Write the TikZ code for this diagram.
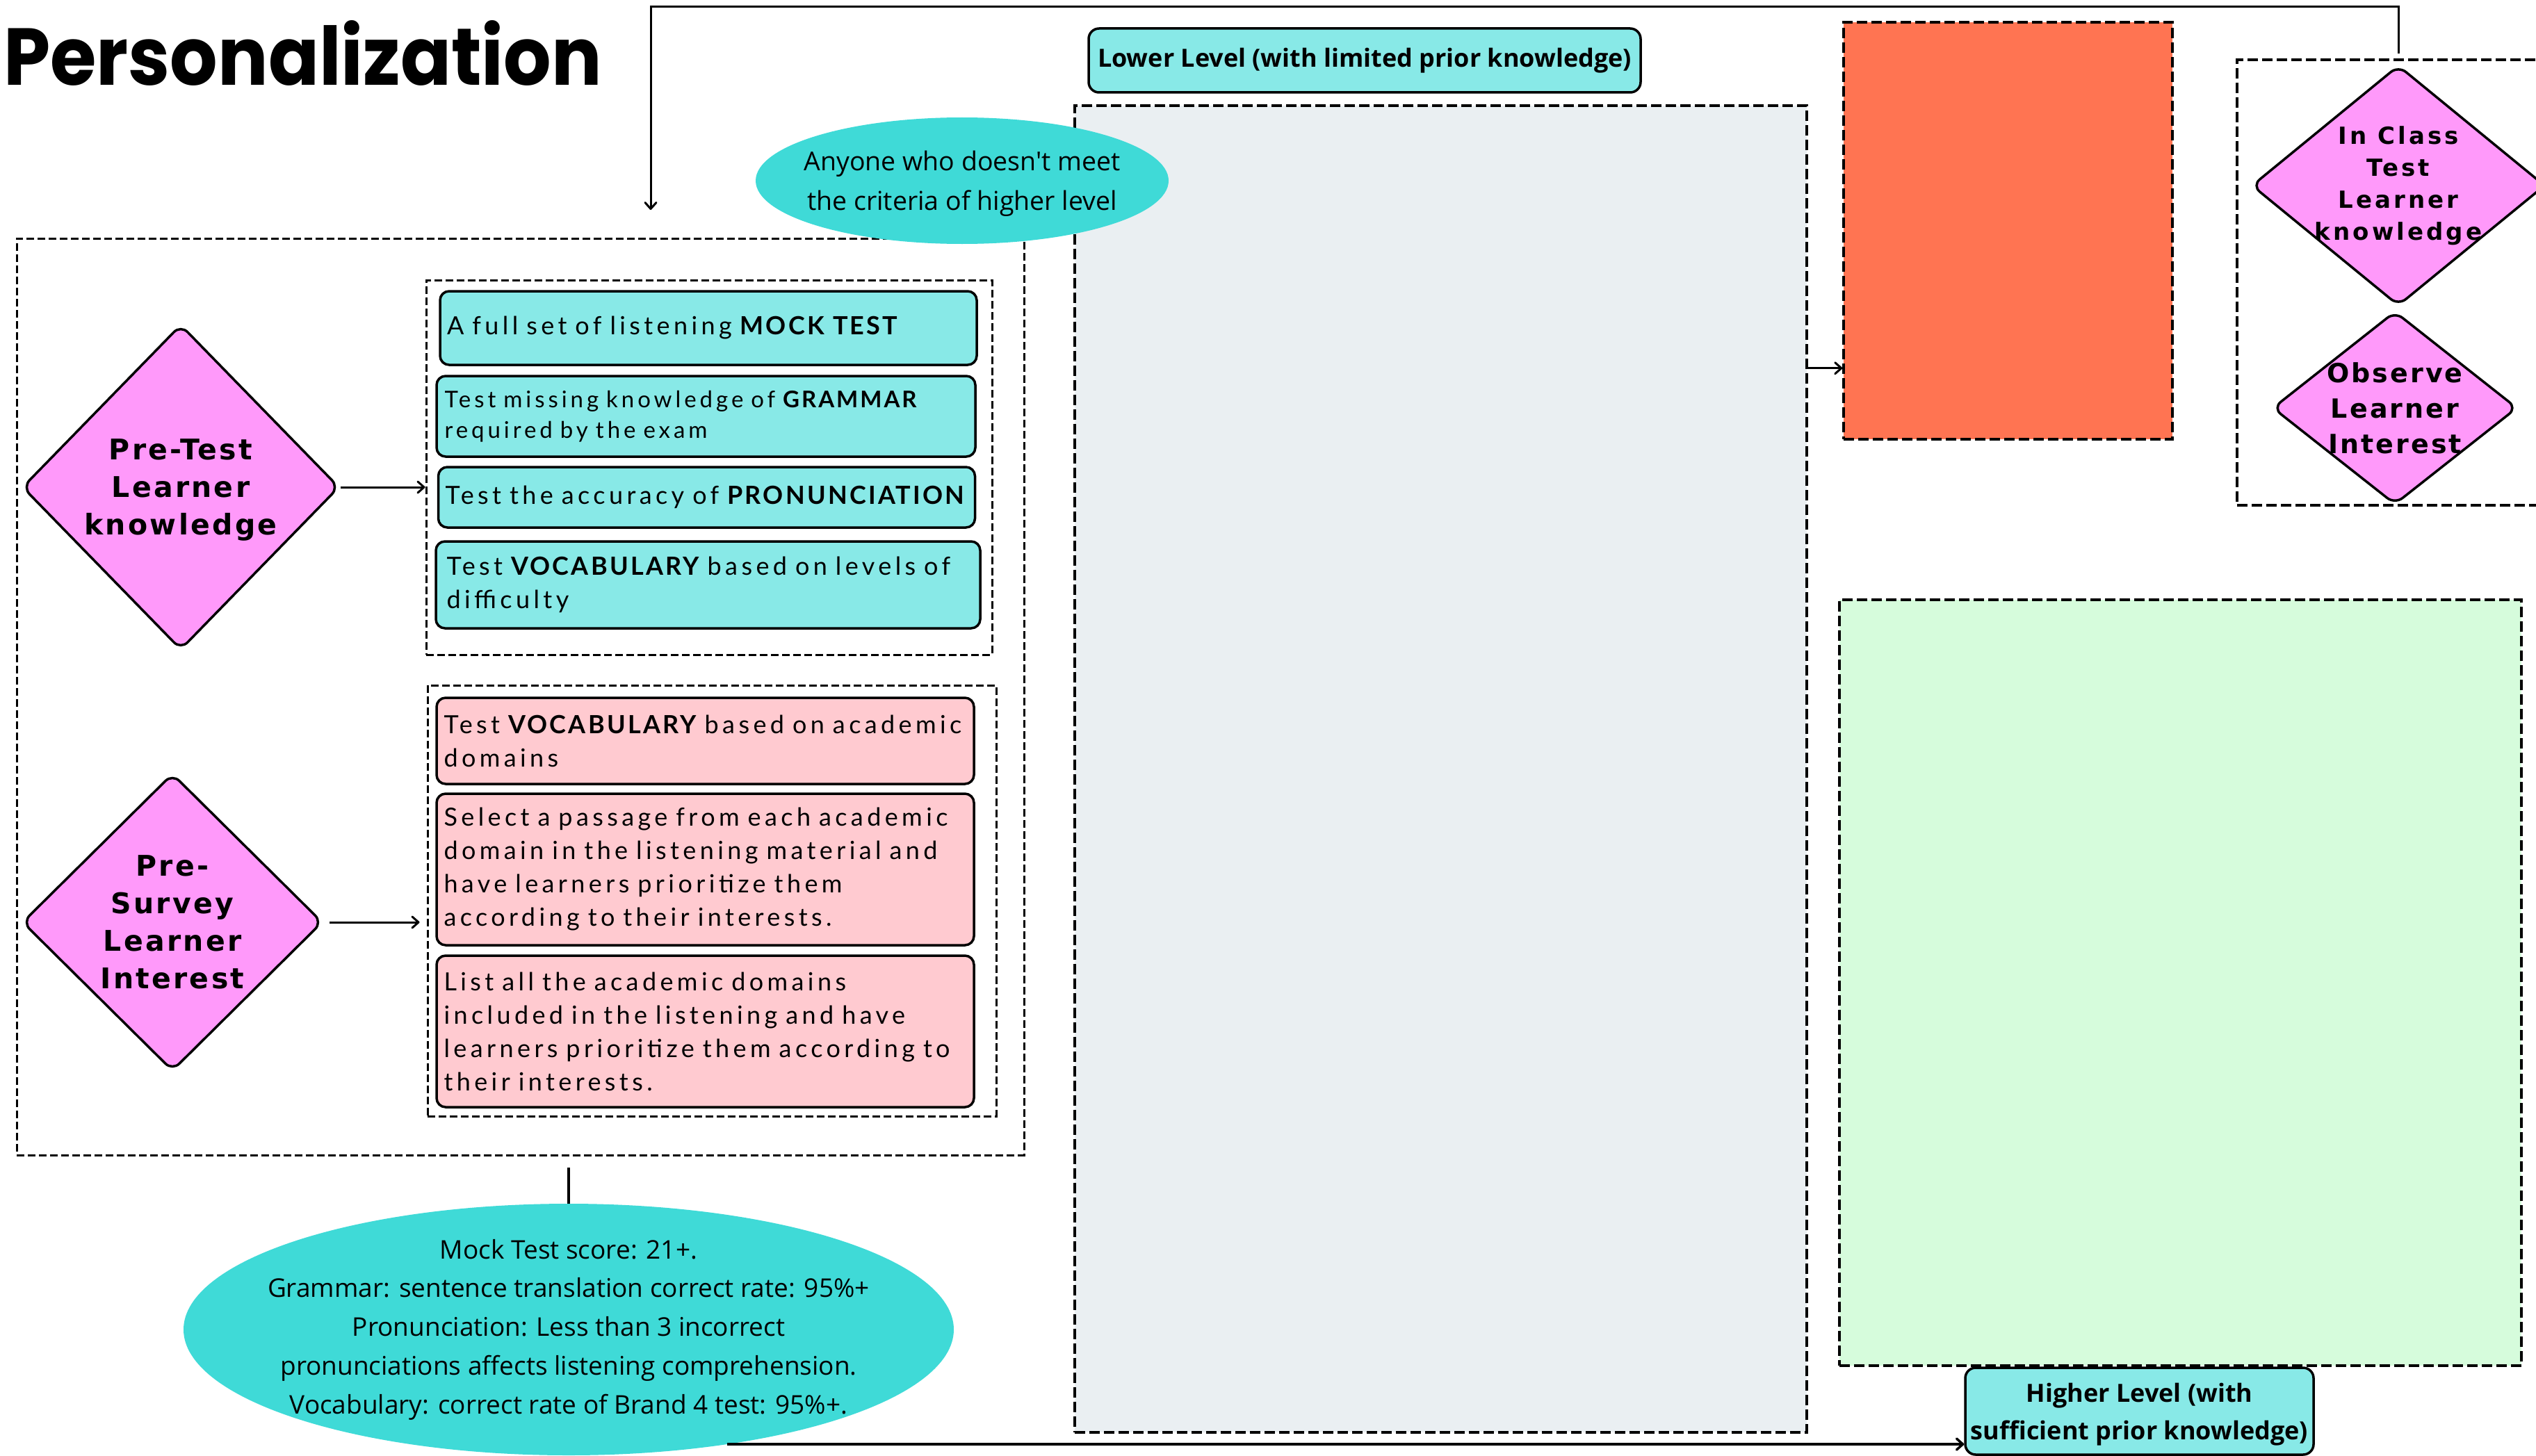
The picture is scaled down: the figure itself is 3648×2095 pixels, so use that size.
\documentclass[tikz,border=0pt]{standalone}
\usepackage{fontspec}
\usepackage{graphicx}
\usetikzlibrary{shapes.geometric,arrows.meta,calc}
\setmainfont{Open Sans}
\newfontfamily\titlefont{Poppins}
\newfontfamily\boxfont[LetterSpace=15]{Lato}
\newfontfamily\boxbold[LetterSpace=9]{Lato}
\newfontfamily\diafont[LetterSpace=8]{DejaVu Sans}
\newfontfamily\diafontwide[LetterSpace=12]{DejaVu Sans}
\newfontfamily\ovalfont{Open Sans}
\newfontfamily\lvlfont{Open Sans}

\definecolor{boxblue}{HTML}{88E9E7}
\definecolor{ovalcyan}{HTML}{3FDAD7}
\definecolor{diapink}{HTML}{FF99FA}
\definecolor{boxpink}{HTML}{FFCAD0}
\definecolor{coral}{HTML}{FF7452}
\definecolor{mint}{HTML}{D6FCDC}
\definecolor{paleslate}{HTML}{EAEFF2}

\newcommand{\kw}[1]{{\boxbold\bfseries #1}}

\tikzset{
  panel/.style={rectangle, draw=black, line width=3.5pt, dash pattern=on 15pt off 6pt, inner sep=0pt},
  grp/.style={rectangle, draw=black, line width=3pt, dash pattern=on 11pt off 5pt, inner sep=0pt},
  item/.style={rectangle, draw=black, line width=3.5pt, rounded corners=13pt,
    inner xsep=10pt, inner ysep=0pt, align=left, text width=752pt,
    font=\boxfont\fontsize{36}{48}\selectfont},
  blueitem/.style={item, fill=boxblue},
  pinkitem/.style={item, fill=boxpink},
  dia/.style={diamond, draw=black, fill=diapink, line width=3.5pt, rounded corners=14pt, inner sep=0pt},
  diatext/.style={align=center, inner sep=0pt},
  oval/.style={ellipse, fill=ovalcyan, inner sep=0pt},
  ovaltext/.style={align=center, inner sep=0pt},
  lvl/.style={rectangle, draw=black, fill=boxblue, line width=3.5pt, rounded corners=15pt,
    inner sep=0pt, align=center, font=\lvlfont\bfseries\fontsize{36}{54}\selectfont},
  lvltext/.style={align=center, inner sep=0pt, font=\lvlfont\bfseries\fontsize{36}{54}\selectfont},
  arrow/.style={line width=3pt, -{Straight Barb[length=9pt,width=16pt,round]}},
}

\begin{document}
\begin{tikzpicture}[x=1pt,y=-1pt]
\useasboundingbox (0,0) rectangle (3648,2095);
\clip (0,0) rectangle (3648,2095);

% title
\node[anchor=base west, inner sep=0pt] (title) at (5,123)
  {\resizebox{860pt}{93pt}{\titlefont\bfseries Personalization}};

% right-hand panels
\node[panel, fill=paleslate, minimum width=1053pt, minimum height=1909pt] (lowpanel) at (2072.5,1106.5) {};
\node[panel, fill=coral, minimum width=473pt, minimum height=600pt] (coralpanel) at (2888.5,332) {};
\node[panel, fill=mint, minimum width=981pt, minimum height=1102pt] (highpanel) at (3136.5,1414) {};
\node[panel, minimum width=482pt, minimum height=641pt] (classgrp) at (3459,406.5) {};

% in-class checks
\node[dia, minimum width=422pt, minimum height=346pt] (inclass) at (3450,267) {};
\node[diatext, font=\diafontwide\bfseries\fontsize{34}{46}\selectfont] (inclasslbl) at (inclass.center)
  {In Class\\Test\\Learner\\knowledge};
\node[dia, minimum width=352pt, minimum height=278pt] (observe) at (3445,587) {};
\node[diatext, font=\diafont\bfseries\fontsize{38}{51}\selectfont] (observelbl) at (observe.center)
  {Observe\\Learner\\Interest};

% left block: diagnosis before the course
\node[grp, minimum width=1449pt, minimum height=1319pt] (leftgrp) at (748.5,1002.5) {};
\node[grp, minimum width=814pt, minimum height=539pt] (topgrp) at (1020,672.5) {};
\node[grp, minimum width=818pt, minimum height=620pt] (botgrp) at (1024,1296) {};

\node[blueitem, minimum width=770pt, minimum height=106pt] (mock) at (1019,472)
  {A full set of listening \kw{MOCK TEST}};
\node[blueitem, minimum width=775pt, minimum height=116pt, font=\boxfont\fontsize{33}{44}\selectfont] (grammar) at (1015.5,599)
  {Test missing knowledge of \kw{GRAMMAR}\\required by the exam};
\node[blueitem, minimum width=771pt, minimum height=87pt] (pron) at (1016.5,715.5)
  {Test the accuracy of \kw{PRONUNCIATION}};
\node[blueitem, minimum width=783pt, minimum height=125pt] (vocab) at (1018.5,841.5)
  {Test \kw{VOCABULARY} based on levels of\\difficulty};

\node[pinkitem, minimum width=773pt, minimum height=124pt] (domvocab) at (1014.5,1066)
  {Test \kw{VOCABULARY} based on academic\\domains};
\node[pinkitem, minimum width=773pt, minimum height=218pt] (passage) at (1014.5,1251)
  {Select a passage from each academic\\domain in the listening material and\\have learners prioritize them\\according to their interests.};
\node[pinkitem, minimum width=773pt, minimum height=218pt] (domains) at (1014.5,1484)
  {List all the academic domains\\included in the listening and have\\learners prioritize them according to\\their interests.};

\node[dia, minimum width=456pt, minimum height=468pt] (pretest) at (260,701) {};
\node[diatext, font=\diafont\bfseries\fontsize{41}{54}\selectfont] (pretestlbl) at ([yshift=-4pt]pretest.center)
  {Pre-Test\\Learner\\knowledge};
\node[dia, minimum width=432pt, minimum height=428pt] (presurvey) at (248,1327) {};
\node[diatext, font=\diafont\bfseries\fontsize{41}{54}\selectfont] (presurveylbl) at (presurvey.center)
  {Pre-\\Survey\\Learner\\Interest};

\draw[arrow] (pretest.east) -- (pretest.east -| topgrp.west);
\draw[arrow, shorten <=8pt, shorten >=10pt] (presurvey.east) -- (presurvey.east -| botgrp.west);

% level labels
\node[lvl, minimum width=794pt, minimum height=92pt] (lowlvl) at (1963,87)
  {Lower Level (with limited prior knowledge)};
\node[lvl, minimum width=501pt, minimum height=125pt] (highlvl) at (3077.5,2030.5) {};
\node[lvltext] (highlvllbl) at ([yshift=-5pt]highlvl.center)
  {Higher Level (with\\sufficient prior knowledge)};

% criteria ovals
\node[oval, minimum width=594pt, minimum height=182pt] (lowcrit) at (1384,260) {};
\node[ovaltext, font=\ovalfont\fontsize{37.5}{57}\selectfont] (lowcritlbl) at ([yshift=-4pt]lowcrit.center)
  {Anyone who doesn't meet\\the criteria of higher level};
\node[oval, minimum width=1108pt, minimum height=362pt] (highcrit) at (818,1913) {};
\node[ovaltext, font=\ovalfont\fontsize{37}{55.8}\selectfont] (highcritlbl) at (highcrit.center)
  {Mock Test score: 21+.\\Grammar: sentence translation correct rate: 95\%+\\Pronunciation: Less than 3 incorrect\\pronunciations affects listening comprehension.\\Vocabulary: correct rate of Brand 4 test: 95\%+.};

% connectors
\coordinate (loopfrom) at ([yshift=7pt]inclass.north |- classgrp.north);
\coordinate (loopcorner) at (936,10);
\coordinate (loopto) at (936,302);
\draw[arrow] (loopfrom) |- (loopcorner) -- (loopto);

\coordinate (lowexit) at ([yshift=104pt]coralpanel.south -| lowpanel.east);
\draw[arrow] (lowexit) -- (lowexit -| coralpanel.west);

\draw[line width=3.5pt] (highcrit.north) -- ([yshift=-16pt]highcrit.north |- leftgrp.south);

\coordinate (critexit) at (1046,2078);
\draw[arrow, line width=3.5pt] (critexit) -- (critexit -| highlvl.west);
\end{tikzpicture}
\end{document}
